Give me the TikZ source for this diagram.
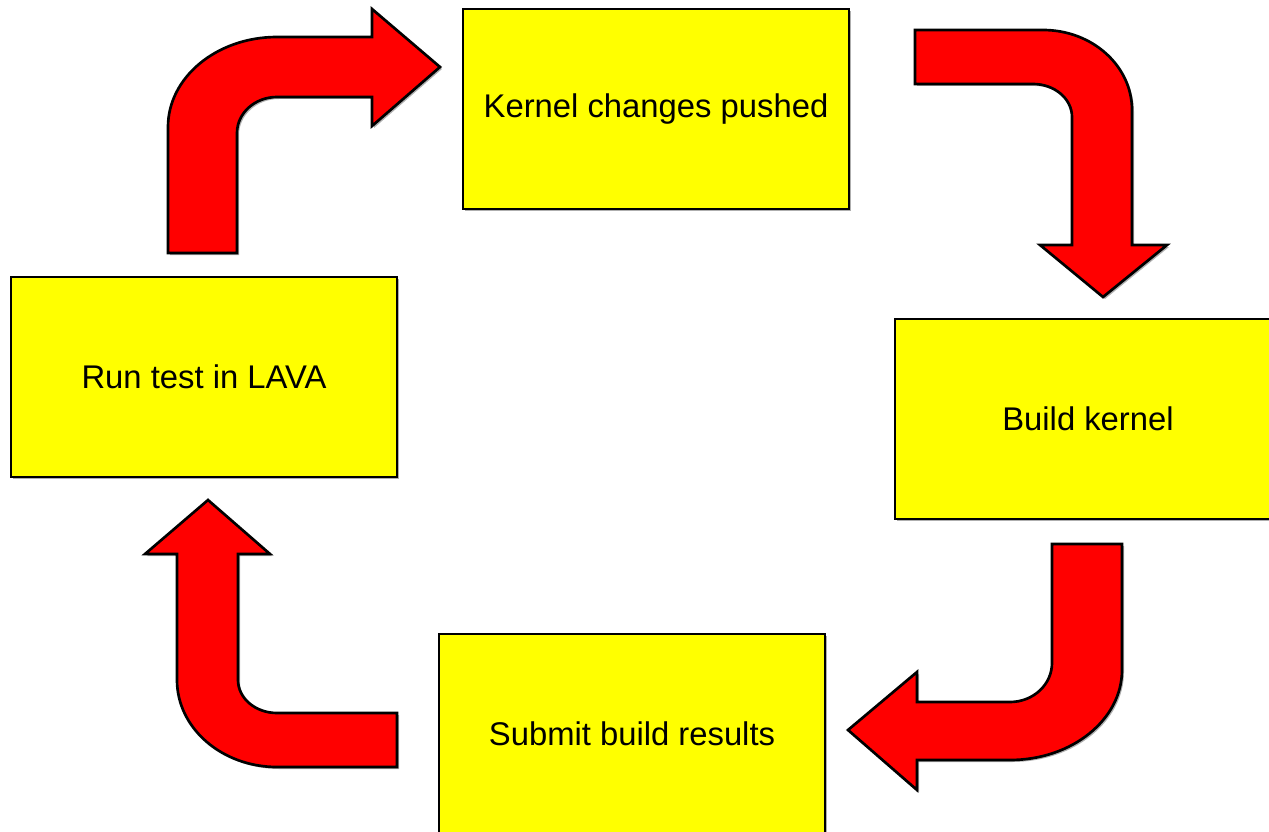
\documentclass[tikz,border=0pt]{standalone}
\usepackage{fontspec}
\setmainfont{Liberation Sans}
\usetikzlibrary{shadows}
\definecolor{boxyellow}{RGB}{255,255,0}
\definecolor{arrowred}{RGB}{255,0,0}
\tikzset{
  stepbox/.style={draw=black, line width=2pt, fill=boxyellow, minimum width=289.5pt, minimum height=150pt,
    font=\fontsize{24.6pt}{29pt}\selectfont, drop shadow={shadow xshift=1.5pt, shadow yshift=-1.5pt, fill=black!45, opacity=0.7}},
  bentarrow/.style={draw=black, line width=2pt, fill=arrowred, line join=miter,
    drop shadow={shadow xshift=1.5pt, shadow yshift=-1.5pt, fill=black!45, opacity=0.7}}
}
\begin{document}
\begin{tikzpicture}[x=0.75pt, y=-0.75pt]
			\useasboundingbox (0,0) rectangle (1269,831);
			% The four steps of the cycle
			\node[stepbox] (push) at (656,109) {Kernel changes pushed};
			\node[stepbox] (build) at (1088,419) {Build kernel};
			\node[stepbox] (submit) at (632,734) {Submit build results};
			\node[stepbox] (lava) at (204,377) {Run test in LAVA};
			% Arrow from LAVA up and over to the pushed changes
			\filldraw[bentarrow] (168,253) -- (168,127)
				arc[start angle=180, end angle=270, x radius=109, y radius=90]
				-- (372,37) -- (372,9) -- (440,67) -- (372,126) -- (372,97) -- (277,97)
				arc[start angle=270, end angle=180, x radius=40, y radius=36]
				-- (237,253) -- cycle;
			% Arrow from pushed changes round and down to the build
			\filldraw[bentarrow] (915,30) -- (1043,30)
				arc[start angle=270, end angle=360, x radius=89, y radius=80]
				-- (1132,245) -- (1167,245) -- (1103,297) -- (1040,245) -- (1072,245) -- (1072,117)
				arc[start angle=0, end angle=-90, x radius=39, y radius=33]
				-- (915,84) -- cycle;
			% Arrow from the build down and back to the results
			\filldraw[bentarrow] (1052,544) -- (1122,544) -- (1122,670)
				arc[start angle=0, end angle=90, x radius=112, y radius=90]
				-- (917,760) -- (917,790) -- (848,730) -- (917,672) -- (917,702) -- (1010,702)
				arc[start angle=90, end angle=0, x radius=42, y radius=39]
				-- cycle;
			% Arrow from the results left and up to LAVA
			\filldraw[bentarrow] (397,713) -- (397,767) -- (277,767)
				arc[start angle=90, end angle=180, x radius=100, y radius=87]
				-- (177,554) -- (145,554) -- (208,500) -- (270,554) -- (238,554) -- (238,680)
				arc[start angle=180, end angle=90, x radius=39, y radius=33]
				-- cycle;
		\end{tikzpicture}
\end{document}
